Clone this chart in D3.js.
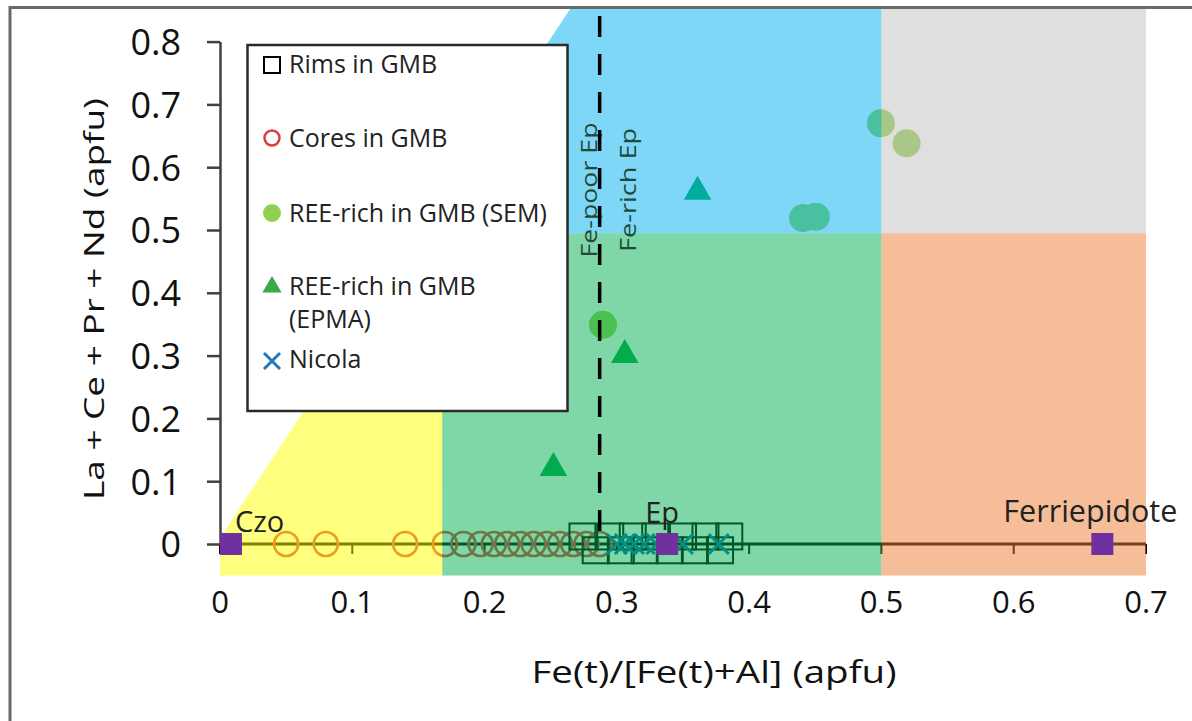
<!DOCTYPE html>
<html><head><meta charset="utf-8">
<script src="https://cdn.jsdelivr.net/npm/d3@7"></script>
<style>html,body{margin:0;padding:0;background:#fff;} svg{display:block;font-family:"Open Sans",sans-serif;}</style>
</head><body><svg id="chart" width="1192" height="721"></svg>
<script>
// ---- data ----
const xTicks = [0, 0.1, 0.2, 0.3, 0.4, 0.5, 0.6, 0.7];
const xTickLabels = ["0", "0.1", "0.2", "0.3", "0.4", "0.5", "0.6", "0.7"];
const yTicks = [0, 0.1, 0.2, 0.3, 0.4, 0.5, 0.6, 0.7, 0.8];
const yTickLabels = ["0", "0.1", "0.2", "0.3", "0.4", "0.5", "0.6", "0.7", "0.8"];

const coresX = [0.05, 0.08, 0.14, 0.17, 0.184, 0.197, 0.207, 0.217, 0.227, 0.237, 0.247, 0.257, 0.267, 0.277, 0.287];
const coresY = [0, 0, 0, 0, 0, 0, 0, 0, 0, 0, 0, 0, 0, 0, 0];
const rimsX = [0.274, 0.284, 0.295, 0.303, 0.312, 0.321, 0.329, 0.340, 0.350, 0.359, 0.367, 0.378, 0.385];
const rimsY = [0.012, -0.01, 0.012, -0.01, 0.012, -0.01, 0.012, -0.01, 0.012, -0.01, 0.012, -0.01, 0.012];
const nicolaX = [0.300, 0.306, 0.313, 0.321, 0.330, 0.350, 0.377];
const nicolaY = [0, 0, 0, 0, 0, 0, 0];
const semX = [0.2895, 0.4407, 0.4505, 0.4996, 0.519];
const semY = [0.349, 0.519, 0.521, 0.670, 0.638];
const epmaX = [0.252, 0.306, 0.361];
const epmaY = [0.121, 0.301, 0.561];
const endMemberNames = ["Czo", "Ep", "Ferriepidote"];
const endMemberX = [0.0083, 0.338, 0.667];
const endMemberY = [0, 0, 0];

const legendLabels = [["Rims in GMB"], ["Cores in GMB"], ["REE-rich in GMB (SEM)"], ["REE-rich in GMB", "(EPMA)"], ["Nicola"]];

// field boundaries (data units)
const fieldYMin = -0.05, fieldYMax = 0.852;
const czoEpX = 0.168, epFerriX = 0.5, reeSplitY = 0.495, fePoorRichX = 0.287;
const diagP0 = [0, 0.01], diagP1 = [0.265, 0.853];

// ---- chart ----
const svg = d3.select("#chart");
const x = d3.scaleLinear([0, 0.7], [220, 1146]);
const y = d3.scaleLinear([0, 0.8], [544, 41.6]);
const diagX = v => diagP0[0] + (diagP1[0] - diagP0[0]) * (v - diagP0[1]) / (diagP1[1] - diagP0[1]);

// frame
svg.append("path").attr("d", "M10,721 L10,7.5 L1192,7.5").attr("fill", "none")
  .attr("stroke", "#6a6a6a").attr("stroke-width", 3);

const under = svg.append("g");
// x axis line at y=0 with ticks
under.append("line").attr("x1", x(0)).attr("x2", x(0.7)).attr("y1", y(0)).attr("y2", y(0))
  .attr("stroke", "#000").attr("stroke-width", 3);
under.selectAll(".xt").data(xTicks).join("line")
  .attr("x1", d => x(d)).attr("x2", d => x(d)).attr("y1", y(0)).attr("y2", y(0) + 10)
  .attr("stroke", "#000").attr("stroke-width", 2);

// cores
under.selectAll(".core").data(coresX).join("circle")
  .attr("cx", d => x(d)).attr("cy", (d, i) => y(coresY[i])).attr("r", 12)
  .attr("fill", "none").attr("stroke", "#DC3C3C").attr("stroke-width", 2.7);
// rims
const rs = 26;
under.selectAll(".rim").data(rimsX).join("rect")
  .attr("x", d => x(d) - rs / 2).attr("y", (d, i) => y(rimsY[i]) - rs / 2).attr("width", rs).attr("height", rs)
  .attr("fill", "none").attr("stroke", "#000").attr("stroke-width", 2);
// nicola
under.selectAll(".nic").data(nicolaX).join("path")
  .attr("d", (d, i) => { const cx = x(d), cy = y(nicolaY[i]), h = 10; return `M${cx-h},${cy-h}L${cx+h},${cy+h}M${cx-h},${cy+h}L${cx+h},${cy-h}`; })
  .attr("stroke", "#0070C0").attr("stroke-width", 3).attr("fill", "none");
// SEM
under.selectAll(".sem").data(semX).join("circle")
  .attr("cx", d => x(d)).attr("cy", (d, i) => y(semY[i])).attr("r", 14).attr("fill", "#92D050");
// EPMA
const tri = d3.symbol(d3.symbolTriangle, 330);
under.selectAll(".epma").data(epmaX).join("path")
  .attr("transform", (d, i) => `translate(${x(d)},${y(epmaY[i])})`).attr("d", tri()).attr("fill", "#00A84A");

// fields (semi-transparent overlays)
const fields = [
  {c: "#FFFF00", p: [[0, fieldYMin], [czoEpX, fieldYMin], [czoEpX, reeSplitY], [diagX(reeSplitY), reeSplitY], [diagP0[0], diagP0[1]]]},
  {c: "#00B050", p: [[czoEpX, fieldYMin], [epFerriX, fieldYMin], [epFerriX, reeSplitY], [czoEpX, reeSplitY]]},
  {c: "#00B0F0", p: [[diagX(reeSplitY), reeSplitY], [epFerriX, reeSplitY], [epFerriX, fieldYMax], [diagX(fieldYMax), fieldYMax]]},
  {c: "#ED7D31", p: [[epFerriX, fieldYMin], [0.7, fieldYMin], [0.7, reeSplitY], [epFerriX, reeSplitY]]},
  {c: "#BFBFBF", p: [[epFerriX, reeSplitY], [0.7, reeSplitY], [0.7, fieldYMax], [epFerriX, fieldYMax]]}
];
svg.append("g").selectAll("path").data(fields).join("path")
  .attr("d", f => "M" + f.p.map(q => `${x(q[0])},${y(q[1])}`).join("L") + "Z")
  .attr("fill", f => f.c).attr("fill-opacity", 0.5);

// Fe-poor / Fe-rich text
svg.append("text").attr("transform", `translate(${x(fePoorRichX) - 3},190) rotate(-90)`)
  .attr("text-anchor", "middle").attr("font-size", 21).attr("textLength", 135).attr("lengthAdjust", "spacingAndGlyphs")
  .attr("fill", "#1d4a3a").text("Fe-poor Ep");
svg.append("text").attr("transform", `translate(${x(fePoorRichX) + 36},190) rotate(-90)`)
  .attr("text-anchor", "middle").attr("font-size", 21).attr("textLength", 124).attr("lengthAdjust", "spacingAndGlyphs")
  .attr("fill", "#1d4a3a").text("Fe-rich Ep");

// dashed line
svg.append("line").attr("x1", x(fePoorRichX)).attr("x2", x(fePoorRichX)).attr("y1", 16).attr("y2", y(0))
  .attr("stroke", "#000").attr("stroke-width", 3.5).attr("stroke-dasharray", "21 17");

// y axis
const ya = svg.append("g").attr("transform", `translate(${x(0)},0)`)
  .call(d3.axisLeft(y).tickValues(yTicks).tickSize(13).tickSizeOuter(0).tickPadding(26).tickFormat((d, i) => yTickLabels[i]));
ya.select(".domain").attr("stroke", "#404040").attr("stroke-width", 2.5);
ya.selectAll(".tick line").attr("stroke", "#404040").attr("stroke-width", 2.5);
ya.selectAll(".tick text").attr("font-size", 36).attr("font-family", "Open Sans").attr("fill", "#111").attr("dy", "0.36em");

// x tick labels
svg.append("g").selectAll("text").data(xTicks).join("text")
  .attr("x", d => x(d)).attr("y", 613).attr("text-anchor", "middle").attr("font-size", 31).attr("fill", "#111")
  .text((d, i) => xTickLabels[i]);

// end members
svg.selectAll(".em").data(endMemberX).join("rect")
  .attr("x", d => x(d) - 11).attr("y", (d, i) => y(endMemberY[i]) - 11).attr("width", 22).attr("height", 22).attr("fill", "#7030A0");
const emOff = [[4, -12, "start", 29], [-5, -21, "middle", 29], [-12, -22, "middle", 30.5]];
svg.selectAll(".eml").data(endMemberNames).join("text")
  .attr("x", (d, i) => x(endMemberX[i]) + emOff[i][0]).attr("y", (d, i) => y(endMemberY[i]) + emOff[i][1])
  .attr("text-anchor", (d, i) => emOff[i][2]).attr("font-size", (d, i) => emOff[i][3]).attr("fill", "#222").text(d => d);

// axis titles
svg.append("text").attr("x", 714).attr("y", 683).attr("text-anchor", "middle").attr("font-size", 31)
  .attr("textLength", 365).attr("lengthAdjust", "spacingAndGlyphs").attr("fill", "#111").text("Fe(t)/[Fe(t)+Al]  (apfu)");
svg.append("text").attr("transform", "translate(104,299) rotate(-90)").attr("text-anchor", "middle").attr("font-size", 27)
  .attr("textLength", 402).attr("lengthAdjust", "spacingAndGlyphs").attr("fill", "#111").text("La + Ce + Pr + Nd (apfu)");

// legend
const lg = svg.append("g");
lg.append("rect").attr("x", 247.5).attr("y", 45).attr("width", 320).attr("height", 366)
  .attr("fill", "#fff").attr("stroke", "#2a2a2a").attr("stroke-width", 2.5);
const lgY = [65, 138, 213, 287, 361];
const lgBase = [[73], [147], [222], [295, 328], [368]];
const mx = 272;
lg.append("rect").attr("x", mx - 8).attr("y", lgY[0] - 8).attr("width", 16).attr("height", 16)
  .attr("fill", "none").attr("stroke", "#000").attr("stroke-width", 2);
lg.append("circle").attr("cx", mx).attr("cy", lgY[1]).attr("r", 7.5).attr("fill", "none").attr("stroke", "#DC3C3C").attr("stroke-width", 2.5);
lg.append("circle").attr("cx", mx).attr("cy", lgY[2]).attr("r", 9).attr("fill", "#92D050");
lg.append("path").attr("transform", `translate(${mx},${lgY[3]})`).attr("d", d3.symbol(d3.symbolTriangle, 160)()).attr("fill", "#3DAA4A");
lg.append("path").attr("d", `M${mx-8},${lgY[4]-8}L${mx+8},${lgY[4]+8}M${mx-8},${lgY[4]+8}L${mx+8},${lgY[4]-8}`)
  .attr("stroke", "#1F77C0").attr("stroke-width", 3);
legendLabels.forEach((lines, i) => {
  lines.forEach((t, j) => {
    lg.append("text").attr("x", 289).attr("y", lgBase[i][j]).attr("font-size", 25).attr("fill", "#222").text(t);
  });
});
</script></body></html>
